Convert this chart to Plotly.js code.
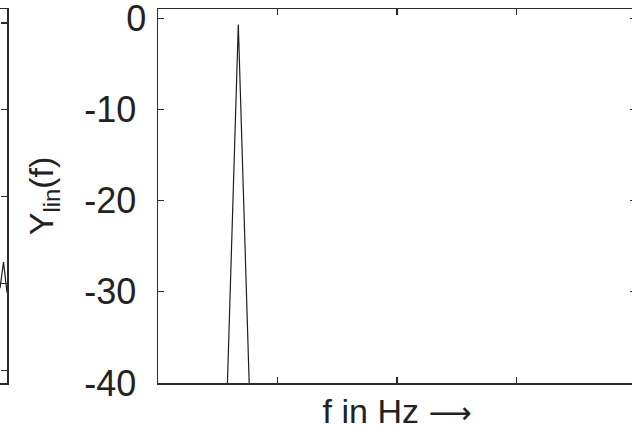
<!DOCTYPE html>
<html>
<head>
<meta charset="utf-8">
<script src="https://cdn.plot.ly/plotly-3.0.1.min.js"></script>
<style>
  html, body { margin: 0; padding: 0; overflow: hidden; background: #fff; }
  #chart { width: 640px; height: 432px; }
</style>
</head>
<body>
<div id="chart"></div>
<script>
// Magnitude spectrum around the single tone (dB), linear frequency axis
const freqHz = [480, 576, 672, 768, 864];
const levelDb = [-80, -42.2, -0.7, -42.2, -80];

// Edge of the neighbouring panel (same frequency window, previous plot)
const prevX = [0, 0.5, 1.0];
const prevY = [0.95, 1.25, 0.9];

// Axis ticks
const yTickVals = [-40, -30, -20, -10, 0];
const yTickText = ['-40\u00a0', '-30\u00a0', '-20\u00a0', '-10\u00a0', '0'];
const xTickStep = 1000;

const W = 640, H = 432;
const font = { family: 'Liberation Sans, Arial, sans-serif', color: '#222' };
const lineCol = '#2b2b2b';

const traces = [
  {
    x: freqHz, y: levelDb, type: 'scatter', mode: 'lines',
    line: { color: '#1e1e1e', width: 1.2 },
    xaxis: 'x', yaxis: 'y', hoverinfo: 'skip', showlegend: false
  },
  {
    x: prevX, y: prevY, type: 'scatter', mode: 'lines',
    line: { color: '#1e1e1e', width: 1.2 },
    xaxis: 'x2', yaxis: 'y2', hoverinfo: 'skip', showlegend: false
  }
];

const layout = {
  width: W, height: H,
  margin: { l: 0, r: 0, t: 9, b: 49, pad: 0 },
  paper_bgcolor: '#fff', plot_bgcolor: '#fff',
  font: font,
  showlegend: false,
  xaxis: {
    domain: [158 / W, 636 / W],
    range: [0, 4000], dtick: xTickStep, tick0: 0,
    showgrid: false, zeroline: false,
    showline: true, linecolor: lineCol, linewidth: 1.5, mirror: 'ticks',
    ticks: 'inside', ticklen: 6, tickwidth: 1.2, tickcolor: lineCol,
    showticklabels: false,
    title: {
      text: 'f in Hz <span style="font-family:DejaVu Sans;font-size:30px">\u27f6</span>',
      font: { size: 34, family: font.family, color: '#222' }, standoff: 15
    },
    automargin: false
  },
  yaxis: {
    anchor: 'x',
    range: [-40, 1.0],
    tickmode: 'array', tickvals: yTickVals, ticktext: yTickText,
    showgrid: false, zeroline: false,
    showline: true, linecolor: lineCol, linewidth: 1.5, mirror: 'ticks',
    ticks: 'inside', ticklen: 6, tickwidth: 1.2, tickcolor: lineCol,
    tickfont: { size: 36, family: font.family, color: '#222' },
    ticklabelstandoff: 3,
    ticklabeloverflow: 'allow',
    title: { text: 'Y<sub>lin</sub>(f)', font: { size: 34, family: font.family, color: '#222' }, standoff: 20 },
    automargin: false
  },
  xaxis2: {
    domain: [0, 7 / W], anchor: 'y2',
    range: [0, 1],
    showgrid: false, zeroline: false,
    showline: true, linecolor: lineCol, linewidth: 1.5, mirror: true,
    ticks: '', showticklabels: false, automargin: false
  },
  yaxis2: {
    anchor: 'x2', side: 'right',
    range: [-0.14, 4.16], dtick: 1, tick0: 0,
    showgrid: false, zeroline: false,
    showline: true, linecolor: lineCol, linewidth: 1.5,
    ticks: 'inside', ticklen: 6, tickwidth: 1.2, tickcolor: lineCol,
    showticklabels: false, automargin: false
  }
};

Plotly.newPlot('chart', traces, layout, { staticPlot: true, displayModeBar: false });
</script>
</body>
</html>
